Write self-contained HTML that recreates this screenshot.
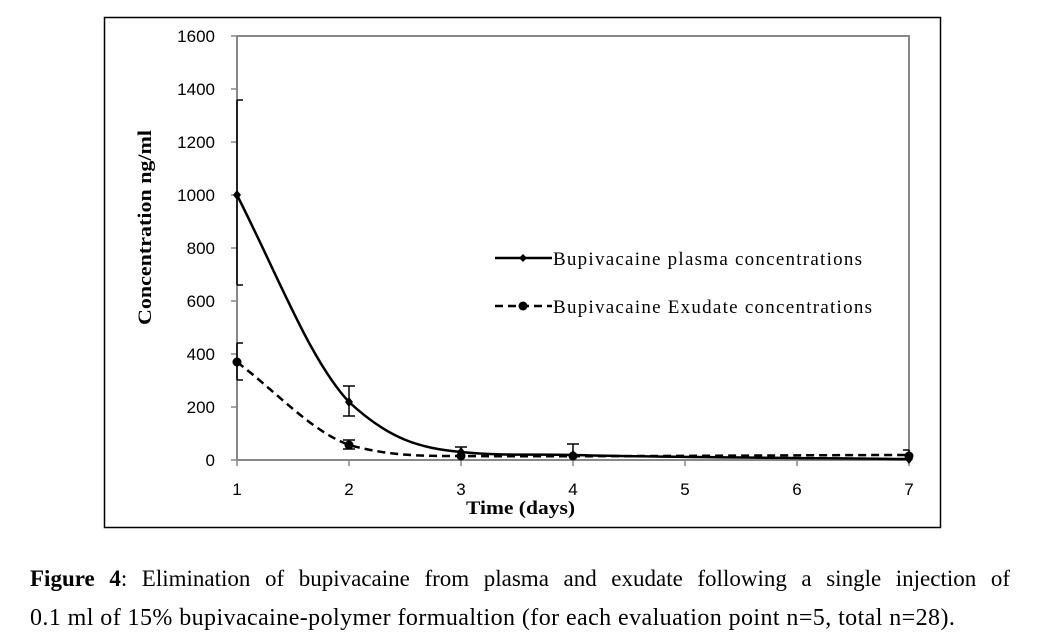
<!DOCTYPE html>
<html><head><style>
body{margin:0;background:#fff;width:1042px;height:644px;overflow:hidden;position:relative}
svg{display:block}
.cap{position:absolute;left:30px;width:980px;font-family:"Liberation Serif",serif;font-size:23px;color:#000;white-space:nowrap}
</style></head><body>
<svg width="1042" height="644" xmlns="http://www.w3.org/2000/svg">
<rect x="104.5" y="17.5" width="836" height="510" fill="#fff" stroke="#000" stroke-width="1.5"/>
<rect x="237" y="36" width="672" height="424" fill="none" stroke="#888" stroke-width="2"/>
<g stroke="#888" stroke-width="1.5">
<line x1="231" y1="36" x2="237" y2="36"/><line x1="231" y1="89" x2="237" y2="89"/><line x1="231" y1="142" x2="237" y2="142"/><line x1="231" y1="195" x2="237" y2="195"/><line x1="231" y1="248" x2="237" y2="248"/><line x1="231" y1="301" x2="237" y2="301"/><line x1="231" y1="354" x2="237" y2="354"/><line x1="231" y1="407" x2="237" y2="407"/><line x1="231" y1="460" x2="237" y2="460"/>
<line x1="237" y1="460" x2="237" y2="466"/><line x1="349" y1="460" x2="349" y2="466"/><line x1="461" y1="460" x2="461" y2="466"/><line x1="573" y1="460" x2="573" y2="466"/><line x1="685" y1="460" x2="685" y2="466"/><line x1="797" y1="460" x2="797" y2="466"/><line x1="909" y1="460" x2="909" y2="466"/>
</g>
<g font-family="Liberation Sans, sans-serif" font-size="17" fill="#000" text-anchor="end">
<text x="215" y="42">1600</text><text x="215" y="95">1400</text><text x="215" y="148">1200</text><text x="215" y="201">1000</text><text x="215" y="254">800</text><text x="215" y="307">600</text><text x="215" y="360">400</text><text x="215" y="413">200</text><text x="215" y="466">0</text>
</g>
<g font-family="Liberation Sans, sans-serif" font-size="17" fill="#000" text-anchor="middle">
<text x="237" y="495">1</text><text x="349" y="495">2</text><text x="461" y="495">3</text><text x="573" y="495">4</text><text x="685" y="495">5</text><text x="797" y="495">6</text><text x="909" y="495">7</text>
</g>
<text x="466" y="514" font-family="Liberation Serif, serif" font-weight="bold" font-size="19" textLength="109" lengthAdjust="spacingAndGlyphs">Time (days)</text>
<text transform="translate(151,325) rotate(-90)" font-family="Liberation Serif, serif" font-weight="bold" font-size="19" textLength="195" lengthAdjust="spacingAndGlyphs">Concentration ng/ml</text>
<g stroke="#000" stroke-width="1.5" fill="none">
<path d="M237,100V285M237,100h6M237,285h6"/>
<path d="M237,343V380M237,343h6M237,380h6"/>
<path d="M349,386V416M343,386h12M343,416h12"/>
<path d="M349,440V449M343,440h12M343,449h12"/>
<path d="M461,447V460M455,447h12"/>
<path d="M573,444V460M567,444h12"/>
<path d="M909,450V460M903,450h6"/>
</g>
<path d="M237,195 C280,280 310,360 349,402 C390,440 420,448 461,452 C500,456 540,454 573,455 C640,457 800,458 909,459" fill="none" stroke="#000" stroke-width="2.5"/>
<path d="M237,362 C280,395 310,430 349,445 C390,456 420,456 461,456 C560,457 800,455 909,455" fill="none" stroke="#000" stroke-width="2.5" stroke-dasharray="8,5"/>
<g fill="#000">
<path d="M237,190l4,5-4,5-4-5z"/><path d="M349,397l4,5-4,5-4-5z"/><path d="M461,447l4,5-4,5-4-5z"/><path d="M573,450l4,5-4,5-4-5z"/><path d="M909,454l4,5-4,5-4-5z"/>
<circle cx="237" cy="362" r="4.5"/><circle cx="349" cy="445" r="4.5"/><circle cx="461" cy="456" r="4.5"/><circle cx="573" cy="456" r="4.5"/><circle cx="909" cy="456" r="4.5"/>
</g>
<line x1="495" y1="258" x2="552" y2="258" stroke="#000" stroke-width="2.5"/>
<path d="M523,254l4,4-4,4-4-4z" fill="#000"/>
<line x1="495" y1="306" x2="552" y2="306" stroke="#000" stroke-width="2.5" stroke-dasharray="8,5"/>
<circle cx="523" cy="306" r="4.5" fill="#000"/>
<g font-family="Liberation Serif, serif" font-size="19" fill="#000">
<text x="553" y="265" textLength="309" lengthAdjust="spacing">Bupivacaine plasma  concentrations</text>
<text x="553" y="313" textLength="319" lengthAdjust="spacing">Bupivacaine Exudate concentrations</text>
</g>
</svg>
<div class="cap" style="top:566px;text-align:justify;text-align-last:justify;white-space:normal"><b>Figure 4</b>: Elimination of bupivacaine from plasma and exudate following a single injection of</div>
<div class="cap" style="top:605px;font-size:24px;letter-spacing:0.42px">0.1 ml of 15% bupivacaine-polymer formualtion (for each evaluation point n=5, total n=28).</div>
</body></html>
